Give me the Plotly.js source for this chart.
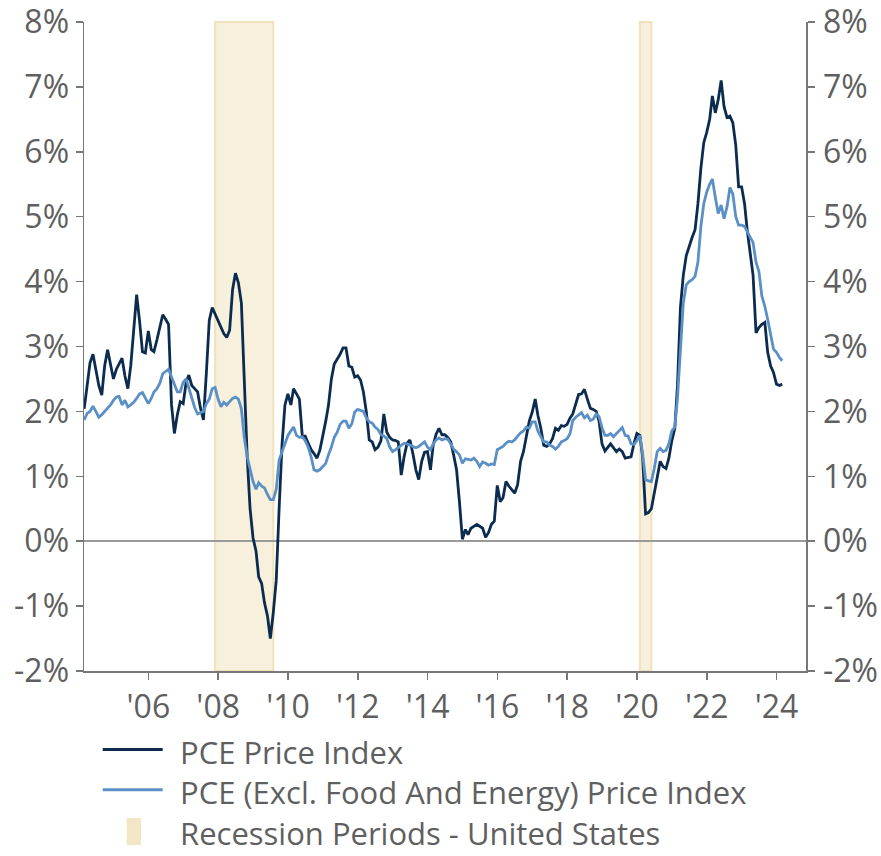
<!DOCTYPE html>
<html><head><meta charset="utf-8">
<script src="https://cdn.plot.ly/plotly-3.0.1.min.js"></script>
<style>html,body{margin:0;padding:0;background:#fff}</style>
</head><body>
<div id="chart" style="width:881px;height:856px"></div>
<script>
// Monthly observations (month-end), first observation Feb 2004
const startYear = 2004, startMonth = 2;

// PCE Price Index, YoY %
const pceValues = [
 2.04,2.4,2.75,2.88,2.65,2.4,2.25,2.7,2.95,2.75,2.5,2.65,
 2.72,2.82,2.55,2.35,2.7,3.3,3.8,3.4,2.92,2.9,3.24,2.95,
 2.92,3.1,3.3,3.49,3.42,3.34,2.1,1.66,1.95,2.15,2.12,2.45,
 2.56,2.4,2.35,2.3,2.05,1.87,2.6,3.4,3.6,3.5,3.4,3.3,
 3.2,3.14,3.25,3.88,4.13,3.98,3.67,2.5,1.3,0.5,0.05,-0.15,
 -0.55,-0.65,-0.95,-1.15,-1.5,-1.1,-0.6,0.5,1.5,2.1,2.27,2.1,
 2.35,2.27,2.19,1.61,1.62,1.51,1.41,1.35,1.28,1.4,1.61,1.85,
 2.09,2.5,2.73,2.8,2.88,2.98,2.98,2.7,2.68,2.53,2.55,2.48,
 2.3,1.99,1.56,1.53,1.41,1.45,1.55,1.96,1.68,1.6,1.56,1.55,
 1.53,1.02,1.3,1.51,1.56,1.35,1.1,0.95,1.23,1.37,1.38,1.1,
 1.48,1.65,1.74,1.64,1.64,1.6,1.53,1.33,1.1,0.61,0.03,0.18,
 0.1,0.2,0.23,0.26,0.23,0.2,0.06,0.13,0.26,0.31,0.86,0.61,
 0.67,0.92,0.85,0.8,0.74,0.87,1.23,1.38,1.6,1.85,1.99,2.19,
 1.94,1.74,1.48,1.46,1.5,1.58,1.74,1.71,1.78,1.77,1.8,1.9,
 1.96,2.12,2.26,2.27,2.34,2.19,2.05,2.03,2.0,1.85,1.5,1.39,
 1.45,1.5,1.44,1.38,1.42,1.38,1.28,1.29,1.3,1.5,1.66,1.63,
 1.3,0.42,0.44,0.5,0.75,1.0,1.23,1.15,1.12,1.28,1.55,1.74,
 2.4,3.6,4.1,4.4,4.55,4.68,4.8,5.2,5.75,6.14,6.3,6.5,
 6.86,6.6,6.8,7.1,6.7,6.53,6.55,6.45,6.1,5.46,5.46,5.2,
 4.79,4.41,4.1,3.21,3.29,3.34,3.37,2.91,2.7,2.6,2.42,2.4,
 2.42
];

// PCE excluding food and energy, YoY %
const coreValues = [
 1.87,1.97,2.0,2.08,2.0,1.91,1.95,2.0,2.05,2.1,2.17,2.22,
 2.23,2.1,2.17,2.07,2.1,2.14,2.2,2.27,2.29,2.2,2.12,2.2,
 2.3,2.35,2.43,2.58,2.62,2.65,2.53,2.4,2.3,2.3,2.45,2.5,
 2.35,2.2,2.06,1.96,1.98,2.0,2.12,2.19,2.35,2.37,2.19,2.07,
 2.14,2.1,2.15,2.2,2.22,2.19,2.04,1.6,1.3,1.1,0.92,0.8,
 0.9,0.85,0.82,0.72,0.64,0.64,0.8,1.25,1.38,1.5,1.63,1.7,
 1.76,1.63,1.6,1.61,1.55,1.45,1.3,1.1,1.08,1.1,1.15,1.2,
 1.33,1.45,1.6,1.68,1.8,1.85,1.85,1.74,1.81,1.99,2.03,2.02,
 2.0,1.9,1.84,1.82,1.76,1.72,1.64,1.62,1.58,1.45,1.38,1.41,
 1.44,1.48,1.51,1.5,1.48,1.46,1.44,1.46,1.5,1.53,1.45,1.41,
 1.5,1.56,1.59,1.56,1.58,1.57,1.5,1.42,1.38,1.33,1.2,1.27,
 1.26,1.25,1.28,1.23,1.15,1.22,1.2,1.17,1.19,1.18,1.41,1.44,
 1.46,1.51,1.54,1.53,1.56,1.62,1.67,1.7,1.76,1.74,1.84,1.84,
 1.7,1.61,1.53,1.53,1.48,1.46,1.42,1.46,1.53,1.55,1.58,1.66,
 1.86,1.91,1.94,1.98,1.9,1.94,1.86,1.88,1.96,1.92,1.75,1.63,
 1.63,1.66,1.61,1.66,1.71,1.75,1.63,1.62,1.5,1.49,1.55,1.63,
 1.35,0.95,0.93,0.92,1.12,1.38,1.43,1.38,1.4,1.5,1.7,1.76,
 2.2,2.9,3.67,3.95,4.0,4.03,4.08,4.3,4.85,5.2,5.38,5.5,
 5.58,5.3,5.05,5.18,4.97,5.15,5.45,5.35,5.0,4.87,4.87,4.85,
 4.77,4.7,4.6,4.3,4.16,3.78,3.62,3.42,3.2,2.96,2.91,2.83,
 2.78
];

const seriesNames = ['PCE Price Index', 'PCE (Excl. Food And Energy) Price Index', 'Recession Periods - United States'];
const seriesColors = ['#0b2b4f', '#5b90c6', '#f3e6c4'];
const recessionStarts = ['2007-11-30', '2020-01-31'];
const recessionEnds = ['2009-07-31', '2020-05-31'];

const xTickVals = ['2006-01-01','2008-01-01','2010-01-01','2012-01-01','2014-01-01','2016-01-01','2018-01-01','2020-01-01','2022-01-01','2024-01-01'];
const xTickText = ["'06","'08","'10","'12","'14","'16","'18","'20","'22","'24"];
const yTickVals = [-2,-1,0,1,2,3,4,5,6,7,8];
const yTickText = ['-2%','-1%','0%','1%','2%','3%','4%','5%','6%','7%','8%'];

function monthEnd(i) {
  const d = new Date(Date.UTC(startYear, startMonth - 1 + i + 1, 0));
  return d.toISOString().slice(0, 10);
}
const dates = pceValues.map((_, i) => monthEnd(i));

const FONT = '"Open Sans", Roboto, sans-serif';
const TXT = '#5f5f5f';
const AX = '#777777';

const traces = [
  {x: dates, y: pceValues, name: seriesNames[0], type: 'scatter', mode: 'lines',
   line: {color: seriesColors[0], width: 2.8}, yaxis: 'y'},
  {x: dates, y: coreValues, name: seriesNames[1], type: 'scatter', mode: 'lines',
   line: {color: seriesColors[1], width: 2.8}, yaxis: 'y2'}
];

const axisCommon = {
  ticks: 'outside', ticklen: 7, tickwidth: 1.5, tickcolor: AX,
  showline: true, linecolor: AX, linewidth: 1.5, showgrid: false,
  ticklabeloverflow: 'allow',
  tickfont: {family: FONT, size: 32, color: TXT}
};

// Legend drawn below the plot in paper coordinates (one multi-line label block)
const legendShapes = [
  {type: 'line', xref: 'paper', yref: 'paper', x0: 0.0259, x1: 0.109, y0: -0.1210, y1: -0.1210,
   line: {color: seriesColors[0], width: 3}},
  {type: 'line', xref: 'paper', yref: 'paper', x0: 0.0259, x1: 0.109, y0: -0.1831, y1: -0.1831,
   line: {color: seriesColors[1], width: 3}},
  {type: 'rect', xref: 'paper', yref: 'paper', x0: 0.0591, x1: 0.0789, y0: -0.2681, y1: -0.2265,
   fillcolor: seriesColors[2], line: {width: 0}}
];
const legendLabel = {
  text: seriesNames.join('<br>'), xref: 'paper', yref: 'paper', x: 0.1312, y: -0.2835,
  xanchor: 'left', yanchor: 'bottom', align: 'left', showarrow: false, borderpad: 0,
  font: {family: FONT, size: 31, color: TXT}
};

const layout = {
  width: 881, height: 856,
  margin: {l: 84, r: 75, t: 22, b: 185},
  paper_bgcolor: '#ffffff', plot_bgcolor: '#ffffff',
  font: {family: FONT, color: TXT, size: 32},
  showlegend: false,
  xaxis: Object.assign({}, axisCommon, {
    type: 'date', range: ['2004-02-27', '2024-11-04'],
    tickmode: 'array', tickvals: xTickVals, ticktext: xTickText, zeroline: false, ticklabelstandoff: 0
  }),
  yaxis: Object.assign({}, axisCommon, {
    range: [-2, 8], tickmode: 'array', tickvals: yTickVals, ticktext: yTickText,
    zeroline: true, zerolinecolor: '#9a9a9a', zerolinewidth: 1.5, ticklabelstandoff: 0
  }),
  yaxis2: Object.assign({}, axisCommon, {
    range: [-2, 8], overlaying: 'y', side: 'right', anchor: 'x',
    tickmode: 'array', tickvals: yTickVals, ticktext: yTickText, zeroline: false, ticklabelstandoff: 2
  }),
  shapes: recessionStarts.map((s, i) => ({
    type: 'rect', xref: 'x', yref: 'paper', x0: s, x1: recessionEnds[i], y0: 0, y1: 1,
    fillcolor: '#f7f0dc', line: {color: '#f0e2bb', width: 2}, layer: 'below'
  })).concat(legendShapes),
  annotations: [legendLabel]
};

Plotly.newPlot('chart', traces, layout, {displayModeBar: false, staticPlot: true});
</script>
</body></html>
